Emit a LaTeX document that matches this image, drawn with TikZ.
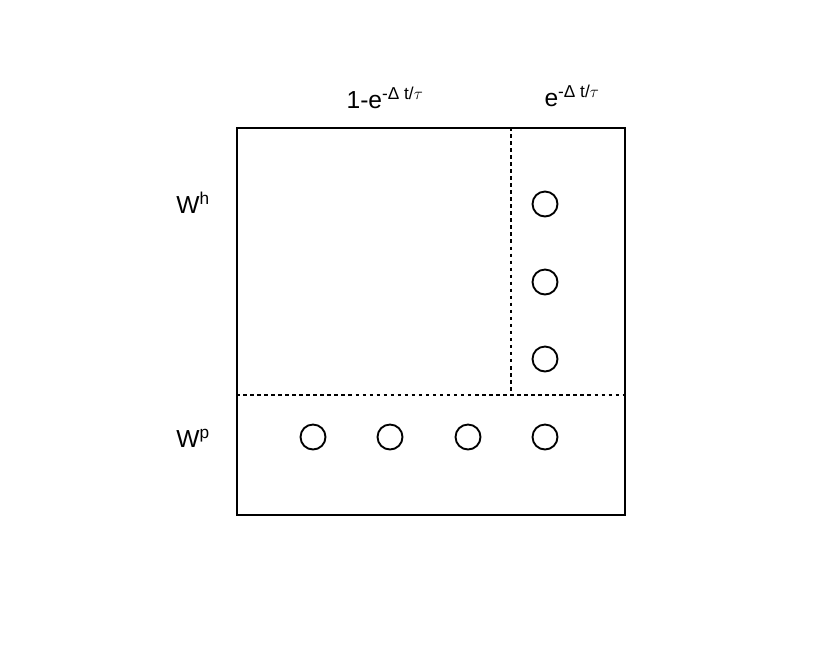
\documentclass[tikz,border=0pt]{standalone}
\usepackage{fontspec}
\setmainfont{Liberation Sans}
\begin{document}
\begin{tikzpicture}[x=0.03cm, y=-0.03cm, line width=1.6pt,
  unit/.style = {draw, circle, minimum size=0.75cm, inner sep=0pt},
  lbl/.style = {font=\fontsize{21}{25}\selectfont}]
\useasboundingbox (0,0) rectangle (830,665);
\node[draw, minimum width=11.64cm, minimum height=11.61cm, inner sep=0pt, anchor=north west] (box) at (236,127) {};
\coordinate (vtop) at (511,127);
\coordinate (vbot) at (511,395);
\coordinate (hl) at (236,395);
\coordinate (hr) at (624,395);
\draw[dashed] (vtop) -- (vbot);
\draw[dashed] (hl) -- (hr);
% right column
\foreach \y/\n in {204/h1, 282/h2, 359/h3}
  \node[unit] (\n) at (545,\y) {};
% bottom row
\foreach \x/\n in {313/p1, 390/p2, 468/p3, 545/p4}
  \node[unit] (\n) at (\x,437) {};
\node[lbl] (decay) at (385,98) {1-e\textsuperscript{-Δ t/$\tau$}};
\node[lbl] (keep) at (572,96) {e\textsuperscript{-Δ t/$\tau$}};
\node[lbl] (wh) at (193,203) {W\textsuperscript{h}};
\node[lbl] (wp) at (193,438) {W\textsuperscript{p}};
\end{tikzpicture}
\end{document}
